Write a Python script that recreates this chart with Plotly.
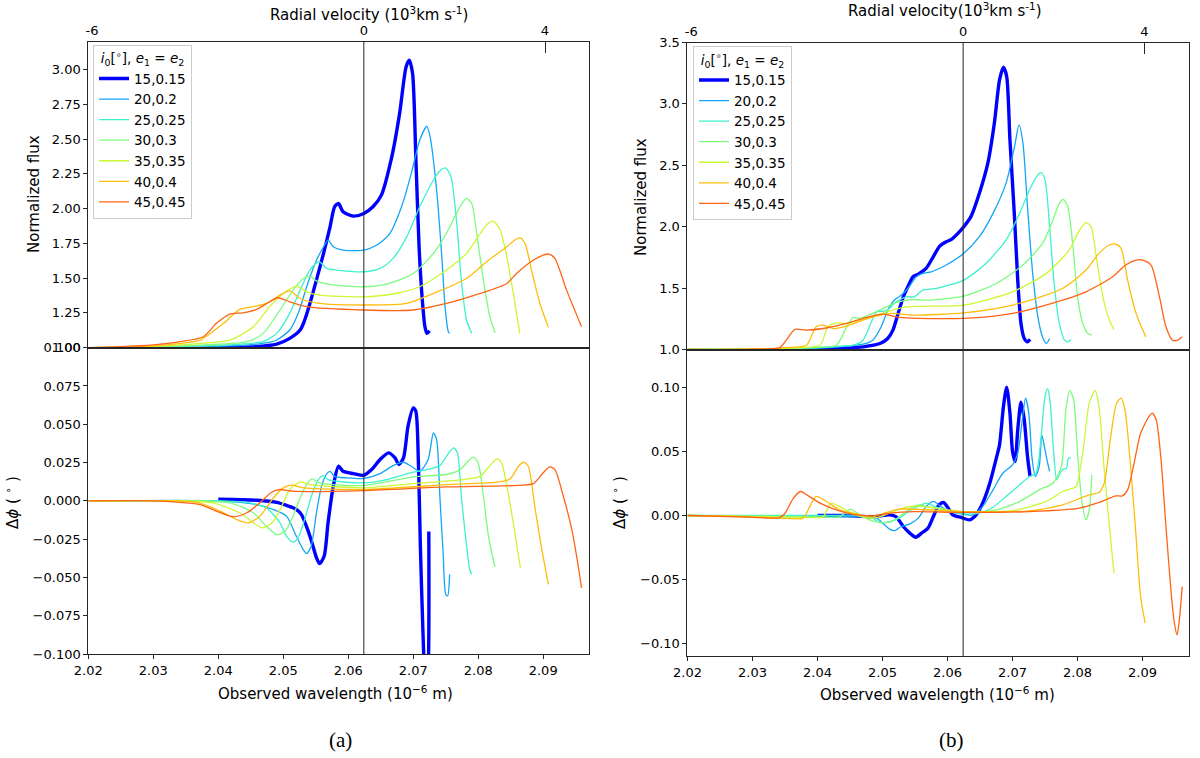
import plotly.graph_objects as go

# ---------------- series labels / styles ----------------
LABELS = ["15,0.15", "20,0.2", "25,0.25", "30,0.3", "35,0.35", "40,0.4", "45,0.45"]
COLORS = ["#0000ff", "#12a6f5", "#3cf2cc", "#7cfc7c", "#ccf733", "#ffbd0a", "#ff6414"]
WIDTHS = [3.4, 1.3, 1.3, 1.3, 1.3, 1.3, 1.3]

REST_WL = 2.0624          # rest wavelength (10^-6 m) -> zero radial velocity
WL_PER_KKMS = 0.00697     # wavelength shift per 10^3 km/s
X_RANGE = [2.02, 2.0971]
VEL_TICKS = [-6, 0, 4]
VEL_TICKTEXT = ["-6", "0", "4"]

# ---------------- panel (a): normalized flux ----------------
a15_wl = [2.0400, 2.0450, 2.0490, 2.0510, 2.0526, 2.0533, 2.0541, 2.0551, 2.0562, 2.0572, 2.0579, 2.0585, 2.0592, 2.0608, 2.0624, 2.0638, 2.0651, 2.0667, 2.0679, 2.0689, 2.0694, 2.0699, 2.0704, 2.0709, 2.0714, 2.0718, 2.0721, 2.0725]
a15_flux = [1.000, 1.005, 1.026, 1.067, 1.127, 1.199, 1.318, 1.486, 1.678, 1.869, 2.013, 2.037, 1.977, 1.946, 1.965, 2.013, 2.097, 2.372, 2.683, 3.019, 3.067, 2.971, 2.372, 1.726, 1.342, 1.151, 1.103, 1.122]
a20_wl = [2.020, 2.030, 2.040, 2.045, 2.048, 2.049, 2.051, 2.0523, 2.0536, 2.0549, 2.0562, 2.0569, 2.0577, 2.0592, 2.0624, 2.0644, 2.0664, 2.0682, 2.0697, 2.0710, 2.0721, 2.0726, 2.0736, 2.0744, 2.0749, 2.0754, 2.0756]
a20_flux = [1.000, 1.002, 1.010, 1.022, 1.040, 1.055, 1.127, 1.247, 1.438, 1.606, 1.726, 1.773, 1.726, 1.702, 1.702, 1.738, 1.821, 2.013, 2.252, 2.492, 2.592, 2.516, 2.133, 1.654, 1.295, 1.115, 1.103]
a25_wl = [2.020, 2.030, 2.040, 2.0447, 2.0469, 2.0490, 2.0510, 2.0526, 2.0541, 2.0555, 2.0567, 2.0582, 2.0624, 2.0649, 2.0669, 2.0690, 2.0710, 2.0731, 2.0742, 2.0750, 2.0758, 2.0767, 2.0774, 2.0782, 2.0790]
a25_flux = [1.000, 1.004, 1.018, 1.030, 1.043, 1.103, 1.247, 1.414, 1.558, 1.618, 1.570, 1.558, 1.546, 1.570, 1.642, 1.797, 2.013, 2.204, 2.275, 2.292, 2.230, 1.893, 1.486, 1.199, 1.103]
a30_wl = [2.020, 2.030, 2.038, 2.0444, 2.0469, 2.0495, 2.0515, 2.0531, 2.0541, 2.0551, 2.0572, 2.0624, 2.0659, 2.0700, 2.0731, 2.0751, 2.0772, 2.0782, 2.0790, 2.0797, 2.0808, 2.0818, 2.0826]
a30_flux = [1.000, 1.006, 1.020, 1.043, 1.103, 1.271, 1.414, 1.498, 1.515, 1.481, 1.455, 1.438, 1.457, 1.534, 1.678, 1.821, 2.013, 2.073, 2.037, 1.845, 1.486, 1.223, 1.108]
a35_wl = [2.020, 2.030, 2.037, 2.0418, 2.0454, 2.0479, 2.0500, 2.0520, 2.0536, 2.0556, 2.0624, 2.0669, 2.0710, 2.0751, 2.0782, 2.0803, 2.0815, 2.0823, 2.0833, 2.0844, 2.0854, 2.0864]
a35_flux = [1.000, 1.010, 1.030, 1.055, 1.151, 1.295, 1.390, 1.443, 1.402, 1.378, 1.366, 1.386, 1.438, 1.558, 1.678, 1.821, 1.893, 1.910, 1.857, 1.654, 1.390, 1.103]
a40_wl = [2.020, 2.030, 2.034, 2.0372, 2.0408, 2.0433, 2.0454, 2.0474, 2.0495, 2.0510, 2.0526, 2.0556, 2.0624, 2.0690, 2.0731, 2.0782, 2.0813, 2.0844, 2.0856, 2.0864, 2.0872, 2.0882, 2.0895, 2.0908]
a40_flux = [1.000, 1.013, 1.030, 1.055, 1.175, 1.275, 1.295, 1.318, 1.378, 1.409, 1.354, 1.318, 1.307, 1.318, 1.390, 1.498, 1.618, 1.726, 1.773, 1.790, 1.750, 1.558, 1.318, 1.146]
a45_wl = [2.020, 2.025, 2.030, 2.0341, 2.0377, 2.0397, 2.0418, 2.0438, 2.0459, 2.0479, 2.0492, 2.0510, 2.0536, 2.0624, 2.0700, 2.0751, 2.0803, 2.0844, 2.0859, 2.0885, 2.0900, 2.0909, 2.0918, 2.0936, 2.0959]
a45_flux = [1.000, 1.007, 1.020, 1.043, 1.079, 1.175, 1.242, 1.251, 1.275, 1.330, 1.359, 1.330, 1.295, 1.271, 1.271, 1.318, 1.390, 1.462, 1.534, 1.630, 1.666, 1.673, 1.642, 1.414, 1.151]

# ---------------- panel (a): differential phase ----------------
a15p_wl = [2.0400, 2.0459, 2.0490, 2.0505, 2.0518, 2.0528, 2.0536, 2.0544, 2.0551, 2.0556, 2.0563, 2.0569, 2.0577, 2.0585, 2.0592, 2.0608, 2.0624, 2.0636, 2.0649, 2.0662, 2.0672, 2.0678, 2.0685, 2.0692, 2.0700, 2.0704, 2.0708, 2.0711, 2.0715, 2.0719, 2.0723, 2.0724]
a15p = [0.001, 0.0004, -0.001, -0.003, -0.005, -0.009, -0.017, -0.027, -0.037, -0.041, -0.036, -0.014, 0.0096, 0.0226, 0.0193, 0.0178, 0.0167, 0.0204, 0.027, 0.0313, 0.028, 0.0237, 0.028, 0.0487, 0.0607, 0.0585, 0.0248, -0.0296, -0.086, -0.125, -0.110, -0.020]
a20p_wl = [2.020, 2.040, 2.0459, 2.0485, 2.0505, 2.0520, 2.0531, 2.0536, 2.0543, 2.0551, 2.0559, 2.0567, 2.0572, 2.0579, 2.0597, 2.0624, 2.0649, 2.0669, 2.0685, 2.0697, 2.0710, 2.0723, 2.0731, 2.0736, 2.0741, 2.0746, 2.0750, 2.0753, 2.0756]
a20p = [0.0, 0.0, -0.0024, -0.0057, -0.010, -0.023, -0.032, -0.0345, -0.0296, -0.0079, 0.0096, 0.0178, 0.0193, 0.016, 0.015, 0.0146, 0.0178, 0.023, 0.0252, 0.0226, 0.0193, 0.027, 0.0443, 0.040, 0.003, -0.034, -0.061, -0.062, -0.048]
a25p_wl = [2.020, 2.040, 2.0444, 2.0474, 2.0495, 2.0505, 2.0515, 2.0523, 2.0533, 2.0544, 2.0554, 2.0561, 2.0569, 2.0624, 2.0659, 2.0700, 2.0721, 2.0741, 2.0751, 2.0762, 2.0768, 2.0774, 2.0781, 2.0787, 2.0790]
a25p = [0.0, 0.0, -0.001, -0.0046, -0.0144, -0.023, -0.027, -0.024, -0.012, 0.004, 0.0139, 0.0165, 0.0139, 0.0117, 0.0139, 0.0187, 0.0204, 0.023, 0.0291, 0.0346, 0.0313, 0.003, -0.0252, -0.0448, -0.048]
a30p_wl = [2.020, 2.036, 2.0418, 2.0454, 2.0474, 2.0490, 2.0503, 2.0515, 2.0526, 2.0536, 2.0544, 2.0556, 2.0624, 2.0700, 2.0751, 2.0772, 2.0787, 2.0793, 2.0800, 2.0808, 2.0815, 2.0823, 2.0826]
a30p = [0.0, 0.0, -0.0013, -0.0078, -0.0166, -0.022, -0.0198, -0.010, 0.002, 0.0106, 0.0143, 0.0117, 0.010, 0.0156, 0.0172, 0.0204, 0.027, 0.0285, 0.0248, 0.003, -0.0209, -0.0383, -0.043]
a35p_wl = [2.020, 2.034, 2.0392, 2.0433, 2.0454, 2.0469, 2.0485, 2.0500, 2.0510, 2.0526, 2.0541, 2.0624, 2.0700, 2.0777, 2.0803, 2.0818, 2.0829, 2.0836, 2.0846, 2.0854, 2.0862, 2.0865]
a35p = [0.0, 0.0, -0.0013, -0.0078, -0.0144, -0.0176, -0.0133, -0.0013, 0.0074, 0.0124, 0.0106, 0.0085, 0.0113, 0.0139, 0.016, 0.023, 0.0274, 0.0248, 0.0052, -0.0144, -0.0362, -0.0438]
a40p_wl = [2.020, 2.032, 2.0367, 2.0403, 2.0428, 2.0446, 2.0464, 2.0485, 2.0500, 2.0513, 2.0531, 2.0624, 2.0751, 2.0828, 2.0849, 2.0862, 2.0870, 2.0877, 2.0887, 2.0897, 2.0908]
a40p = [0.0, 0.0, -0.001, -0.0067, -0.0122, -0.0144, -0.010, 0.002, 0.0085, 0.0102, 0.0085, 0.0074, 0.0106, 0.0122, 0.0143, 0.0226, 0.0252, 0.0226, -0.0035, -0.0296, -0.0546]
a45p_wl = [2.020, 2.030, 2.0341, 2.0372, 2.0397, 2.0423, 2.0444, 2.0464, 2.0482, 2.0495, 2.0515, 2.0624, 2.0751, 2.0854, 2.0885, 2.0900, 2.0910, 2.0918, 2.0931, 2.0944, 2.0954, 2.0959]
a45p = [0.0, 0.0, -0.001, -0.0024, -0.0067, -0.0104, -0.0078, -0.0013, 0.0056, 0.0074, 0.0063, 0.0067, 0.0091, 0.010, 0.0113, 0.0183, 0.0222, 0.0204, 0.003, -0.0187, -0.0427, -0.0568]

# ---------------- panel (b): normalized flux ----------------
b15_wl = [2.0400, 2.0440, 2.0470, 2.0496, 2.0508, 2.0516, 2.0524, 2.0532, 2.0539, 2.0547, 2.0555, 2.0567, 2.0578, 2.0588, 2.0598, 2.0606, 2.0616, 2.0625, 2.0636, 2.0649, 2.0662, 2.0672, 2.0680, 2.0686, 2.0691, 2.0696, 2.0703, 2.0708, 2.0713, 2.0718, 2.0723, 2.0727]
b15_flux = [1.000, 1.010, 1.022, 1.049, 1.090, 1.158, 1.294, 1.429, 1.511, 1.593, 1.614, 1.660, 1.755, 1.842, 1.878, 1.897, 1.946, 2.000, 2.082, 2.272, 2.517, 2.843, 3.196, 3.299, 3.223, 2.706, 2.082, 1.565, 1.212, 1.090, 1.063, 1.082]
b20_wl = [2.020, 2.040, 2.0445, 2.0470, 2.0485, 2.0498, 2.0508, 2.0519, 2.0529, 2.0539, 2.0552, 2.0562, 2.0575, 2.0598, 2.0625, 2.0649, 2.0670, 2.0690, 2.0703, 2.0710, 2.0716, 2.0723, 2.0731, 2.0739, 2.0746, 2.0752, 2.0757]
b20_flux = [1.000, 1.010, 1.027, 1.043, 1.076, 1.185, 1.320, 1.407, 1.443, 1.497, 1.593, 1.620, 1.633, 1.688, 1.783, 1.919, 2.109, 2.353, 2.652, 2.829, 2.680, 2.163, 1.620, 1.266, 1.103, 1.049, 1.090]
b25_wl = [2.020, 2.035, 2.0419, 2.0455, 2.0470, 2.0483, 2.0491, 2.0506, 2.0521, 2.0537, 2.0549, 2.0562, 2.0583, 2.0625, 2.0659, 2.0690, 2.0711, 2.0726, 2.0737, 2.0744, 2.0750, 2.0757, 2.0764, 2.0772, 2.0780, 2.0786, 2.0790]
b25_flux = [1.000, 1.008, 1.022, 1.035, 1.076, 1.226, 1.307, 1.315, 1.389, 1.429, 1.429, 1.484, 1.497, 1.565, 1.701, 1.891, 2.109, 2.299, 2.408, 2.440, 2.381, 2.000, 1.538, 1.212, 1.076, 1.063, 1.082]
b30_wl = [2.020, 2.035, 2.0393, 2.0429, 2.0445, 2.0455, 2.0465, 2.0485, 2.0506, 2.0526, 2.0547, 2.0567, 2.0625, 2.0675, 2.0716, 2.0746, 2.0762, 2.0772, 2.0778, 2.0785, 2.0793, 2.0800, 2.0808, 2.0816, 2.0822]
b30_flux = [1.000, 1.008, 1.016, 1.035, 1.185, 1.261, 1.253, 1.294, 1.348, 1.389, 1.407, 1.402, 1.435, 1.538, 1.688, 1.864, 2.054, 2.190, 2.223, 2.163, 1.837, 1.429, 1.212, 1.130, 1.117]
b35_wl = [2.020, 2.033, 2.0373, 2.0404, 2.0416, 2.0429, 2.0445, 2.0475, 2.0506, 2.0537, 2.0625, 2.0700, 2.0752, 2.0787, 2.0803, 2.0813, 2.0821, 2.0828, 2.0839, 2.0849, 2.0856]
b35_flux = [1.000, 1.006, 1.016, 1.035, 1.185, 1.217, 1.212, 1.253, 1.307, 1.348, 1.362, 1.470, 1.620, 1.810, 1.973, 2.033, 2.000, 1.783, 1.429, 1.239, 1.163]
b40_wl = [2.020, 2.030, 2.0352, 2.0383, 2.0398, 2.0409, 2.0424, 2.0445, 2.0470, 2.0496, 2.0516, 2.0547, 2.0625, 2.0700, 2.0777, 2.0813, 2.0833, 2.0849, 2.0859, 2.0867, 2.0877, 2.0890, 2.0905]
b40_flux = [1.000, 1.004, 1.016, 1.035, 1.185, 1.198, 1.171, 1.190, 1.239, 1.280, 1.294, 1.280, 1.299, 1.362, 1.497, 1.647, 1.783, 1.851, 1.859, 1.824, 1.565, 1.294, 1.103]
b45_wl = [2.020, 2.030, 2.0342, 2.0352, 2.0365, 2.0383, 2.0409, 2.0445, 2.0475, 2.0501, 2.0526, 2.0625, 2.0700, 2.0777, 2.0813, 2.0854, 2.0874, 2.0890, 2.0900, 2.0913, 2.0926, 2.0936, 2.0946, 2.0954, 2.0961]
b45_flux = [1.000, 1.002, 1.016, 1.076, 1.163, 1.158, 1.171, 1.212, 1.261, 1.288, 1.261, 1.253, 1.294, 1.402, 1.470, 1.593, 1.688, 1.728, 1.728, 1.688, 1.429, 1.185, 1.076, 1.076, 1.103]

# ---------------- panel (b): differential phase ----------------
b15p_wl = [2.0400, 2.0445, 2.0485, 2.0511, 2.0521, 2.0532, 2.0542, 2.0551, 2.0560, 2.0570, 2.0578, 2.0587, 2.0594, 2.0601, 2.0608, 2.0621, 2.0634, 2.0644, 2.0654, 2.0665, 2.0675, 2.0680, 2.0686, 2.0691, 2.0696, 2.0700, 2.0704, 2.0708, 2.0713, 2.0718, 2.0723, 2.0727]
b15p = [0.0, 0.0, -0.001, 0.0005, -0.001, -0.0086, -0.0138, -0.017, -0.0138, -0.0099, -0.001, 0.0084, 0.0102, 0.0058, 0.0005, -0.0015, -0.0034, 0.0005, 0.0097, 0.0253, 0.0449, 0.0553, 0.0853, 0.1004, 0.0801, 0.0501, 0.0423, 0.0671, 0.0887, 0.0749, 0.0462, 0.0305]
b20p_wl = [2.020, 2.040, 2.0470, 2.0491, 2.0503, 2.0511, 2.0519, 2.0529, 2.0542, 2.0555, 2.0567, 2.0579, 2.0588, 2.0603, 2.0625, 2.0639, 2.0654, 2.0670, 2.0685, 2.0700, 2.0708, 2.0715, 2.0720, 2.0725, 2.0730, 2.0735, 2.0741, 2.0745, 2.0749, 2.0753, 2.0757]
b20p = [0.0, -0.001, -0.001, -0.002, -0.0073, -0.0107, -0.0118, -0.0086, -0.0065, -0.002, 0.007, 0.011, 0.0076, 0.0031, 0.001, 0.0005, 0.007, 0.0201, 0.0331, 0.0397, 0.0488, 0.0749, 0.0918, 0.0801, 0.0449, 0.0305, 0.0383, 0.0631, 0.054, 0.0436, 0.0345]
b25p_wl = [2.020, 2.040, 2.0470, 2.0485, 2.0496, 2.0511, 2.0526, 2.0544, 2.0560, 2.0567, 2.0583, 2.0603, 2.0625, 2.0649, 2.0670, 2.0690, 2.0711, 2.0726, 2.0736, 2.0744, 2.0750, 2.0754, 2.0758, 2.0763, 2.0768, 2.0773, 2.0778, 2.0783, 2.0786, 2.0790]
b25p = [0.0, 0.0, 0.0, -0.002, -0.0055, -0.0047, -0.002, 0.0045, 0.0084, 0.0097, 0.0065, 0.0031, 0.0013, 0.0019, 0.0065, 0.0149, 0.024, 0.0305, 0.0331, 0.0618, 0.0932, 0.0992, 0.0879, 0.0514, 0.0279, 0.0331, 0.0363, 0.037, 0.0449, 0.0449]
b30p_wl = [2.020, 2.040, 2.0434, 2.0450, 2.0465, 2.0480, 2.0501, 2.0514, 2.0532, 2.0547, 2.0557, 2.0572, 2.0625, 2.0675, 2.0711, 2.0741, 2.0762, 2.0775, 2.0782, 2.0788, 2.0794, 2.0800, 2.0807, 2.0813, 2.0818, 2.0822]
b30p = [0.0, -0.001, -0.001, 0.005, 0.0005, -0.0034, -0.0055, -0.0047, 0.0013, 0.007, 0.0084, 0.0065, 0.0024, 0.0045, 0.011, 0.0201, 0.0253, 0.0383, 0.0827, 0.0979, 0.0906, 0.0488, 0.0097, -0.0034, 0.0045, 0.0318]
b35p_wl = [2.020, 2.035, 2.0400, 2.0409, 2.0421, 2.0434, 2.0455, 2.0480, 2.0496, 2.0516, 2.0537, 2.0552, 2.0625, 2.0700, 2.0752, 2.0777, 2.0793, 2.0798, 2.0808, 2.0818, 2.0827, 2.0833, 2.0841, 2.0849, 2.0856]
b35p = [0.0, -0.001, -0.0016, -0.001, 0.0097, 0.007, 0.0013, -0.002, -0.001, 0.0031, 0.0065, 0.0076, 0.0031, 0.0039, 0.011, 0.0188, 0.0214, 0.0227, 0.0488, 0.0879, 0.0979, 0.0853, 0.0358, -0.0086, -0.0451]
b40p_wl = [2.020, 2.030, 2.0342, 2.0378, 2.0388, 2.0398, 2.0414, 2.0434, 2.0460, 2.0485, 2.0506, 2.0526, 2.0625, 2.0726, 2.0777, 2.0818, 2.0833, 2.0841, 2.0851, 2.0860, 2.0867, 2.0873, 2.0882, 2.0890, 2.0897, 2.0904]
b40p = [0.0, -0.001, -0.002, -0.002, 0.007, 0.0149, 0.011, 0.0045, 0.0013, -0.001, 0.0024, 0.005, 0.0031, 0.0037, 0.0084, 0.0162, 0.018, 0.0253, 0.0618, 0.0879, 0.0918, 0.0827, 0.0358, -0.0164, -0.0634, -0.0843]
b45p_wl = [2.020, 2.028, 2.0330, 2.0342, 2.0350, 2.0363, 2.0374, 2.0386, 2.0404, 2.0429, 2.0460, 2.0485, 2.0511, 2.0547, 2.0625, 2.0726, 2.0803, 2.0833, 2.0859, 2.0869, 2.0877, 2.0887, 2.0897, 2.0910, 2.0915, 2.0921, 2.0928, 2.0936, 2.0944, 2.0949, 2.0953, 2.0956, 2.0961]
b45p = [0.0, -0.001, -0.002, -0.0016, 0.0018, 0.0136, 0.0188, 0.0154, 0.0097, 0.0045, 0.0005, -0.0002, 0.0018, 0.0031, 0.0024, 0.0031, 0.0058, 0.0102, 0.0154, 0.0154, 0.0201, 0.041, 0.0644, 0.0775, 0.0801, 0.0749, 0.0462, -0.0086, -0.0608, -0.0843, -0.0934, -0.0843, -0.0556]

A_FLUX = [(a15_wl, a15_flux), (a20_wl, a20_flux), (a25_wl, a25_flux), (a30_wl, a30_flux),
          (a35_wl, a35_flux), (a40_wl, a40_flux), (a45_wl, a45_flux)]
A_PHASE = [(a15p_wl, a15p), (a20p_wl, a20p), (a25p_wl, a25p), (a30p_wl, a30p),
           (a35p_wl, a35p), (a40p_wl, a40p), (a45p_wl, a45p)]
B_FLUX = [(b15_wl, b15_flux), (b20_wl, b20_flux), (b25_wl, b25_flux), (b30_wl, b30_flux),
          (b35_wl, b35_flux), (b40_wl, b40_flux), (b45_wl, b45_flux)]
B_PHASE = [(b15p_wl, b15p), (b20p_wl, b20p), (b25p_wl, b25p), (b30p_wl, b30p),
           (b35p_wl, b35p), (b40p_wl, b40p), (b45p_wl, b45p)]

FONT = "DejaVu Sans"
AXC = "#262626"

fig = go.Figure()

panels = [
    (A_FLUX, "x", "y", "legend", True),
    (A_PHASE, "x2", "y2", "legend", False),
    (B_FLUX, "x3", "y3", "legend2", True),
    (B_PHASE, "x4", "y4", "legend2", False),
]
for series, xa, ya, leg, show in panels:
    for i, (wl, val) in enumerate(series):
        fig.add_trace(go.Scatter(
            x=wl, y=val, mode="lines", name=LABELS[i],
            line=dict(color=COLORS[i], width=WIDTHS[i], shape="spline", smoothing=0.7),
            xaxis=xa, yaxis=ya, legend=leg, showlegend=show,
        ))

def vel(wl):
    return (wl - REST_WL) / WL_PER_KKMS

# empty carrier traces so the radial-velocity (top) axes get drawn
for xa, ya in [("x5", "y"), ("x6", "y3")]:
    fig.add_trace(go.Scatter(x=VEL_TICKS, y=[None] * len(VEL_TICKS), mode="lines",
                             xaxis=xa, yaxis=ya, showlegend=False, hoverinfo="skip"))

XA_DOM = [0.0736, 0.4911]
XB_DOM = [0.5729, 0.9906]

common_ax = dict(showline=True, mirror=True, linecolor=AXC, linewidth=1,
                 showgrid=False, zeroline=False, automargin=False,
                 tickfont=dict(family=FONT, size=13, color="black"),
                 tickcolor=AXC, ticklen=4, tickwidth=1)

def xax(dom, anchor, labels):
    d = dict(common_ax)
    d.update(domain=dom, anchor=anchor, range=X_RANGE, dtick=0.01, tick0=2.02,
             tickformat=".2f")
    if labels:
        d.update(ticks="outside", showticklabels=True)
    else:
        d.update(ticks="", showticklabels=False)
    return d

def yax(dom, anchor, rng, dtick, fmt):
    d = dict(common_ax)
    d.update(domain=dom, anchor=anchor, range=rng, dtick=dtick, tick0=0,
             tickformat=fmt, ticks="outside")
    return d

def velax(over, anchor):
    return dict(overlaying=over, anchor=anchor, side="top", automargin=False,
                range=[vel(X_RANGE[0]), vel(X_RANGE[1])],
                tickmode="array", tickvals=VEL_TICKS, ticktext=VEL_TICKTEXT,
                ticks="", showline=False, showgrid=False, zeroline=False,
                tickfont=dict(family=FONT, size=13, color="black"),
                ticklabelstandoff=3,
                minor=dict(tickmode="array", tickvals=[VEL_TICKS[-1]], ticks="inside",
                           ticklen=11, tickcolor=AXC, tickwidth=1))

legend_common = dict(xanchor="left", yanchor="top", bgcolor="white",
                     bordercolor="#cccccc", borderwidth=1,
                     font=dict(family=FONT, size=13.5, color="black"),
                     title=dict(text="<i>i</i><sub>0</sub>[<sup>∘</sup>], <i>e</i><sub>1</sub> = <i>e</i><sub>2</sub>",
                                side="top center",
                                font=dict(family=FONT, size=13.5, color="black")),
                     itemwidth=30, tracegroupgap=0)

fig.update_layout(
    width=1200, height=758,
    margin=dict(l=0, r=0, t=0, b=0, autoexpand=False),
    font=dict(family=FONT, color="black"),
    plot_bgcolor="white", paper_bgcolor="white",
    xaxis=xax(XA_DOM, "y", False),
    yaxis=yax([0.5413, 0.9446], "x", [1.0, 3.198], 0.25, ".2f"),
    xaxis2=xax(XA_DOM, "y2", True),
    yaxis2=yax([0.1372, 0.5413], "x2", [-0.1, 0.1], 0.025, ".3f"),
    xaxis3=xax(XB_DOM, "y3", False),
    yaxis3=yax([0.5389, 0.9439], "x3", [1.0, 3.5], 0.5, ".1f"),
    xaxis4=xax(XB_DOM, "y4", True),
    yaxis4=yax([0.1346, 0.5389], "x4", [-0.1099, 0.1299], 0.05, ".2f"),
    xaxis5=velax("x", "y"),
    xaxis6=velax("x3", "y3"),
    legend=dict(legend_common, x=0.0775, y=0.941),
    legend2=dict(legend_common, x=0.5775, y=0.939),
)

# rest-wavelength (zero velocity) vertical lines
for xr, yr in [("x", "y"), ("x2", "y2"), ("x3", "y3"), ("x4", "y4")]:
    fig.add_shape(type="line", xref=xr, yref=yr + " domain", x0=REST_WL, x1=REST_WL,
                  y0=0, y1=1, line=dict(color=AXC, width=1), layer="above")

def ann(text, x, y, size=15, angle=0, family=FONT):
    fig.add_annotation(text=text, x=x / 1200, y=1 - y / 758, xref="paper", yref="paper",
                       showarrow=False, textangle=angle, xanchor="center", yanchor="middle",
                       font=dict(family=family, size=size, color="black"))

ann("Radial velocity (10<sup>3</sup>km s<sup>-1</sup>)", 369, 14)
ann("Radial velocity(10<sup>3</sup>km s<sup>-1</sup>)", 945, 10)
ann("Normalized flux", 34, 194, angle=-90)
ann("Normalized flux", 641, 197, angle=-90)
ann("Δ<i>ϕ</i> ( <sup>∘</sup> )", 12, 503, angle=-90)
ann("Δ<i>ϕ</i> ( <sup>∘</sup> )", 619, 503, angle=-90)
ann("Observed wavelength (10<sup>−6</sup> m)", 335, 693)
ann("Observed wavelength (10<sup>−6</sup> m)", 937, 694)
ann("(a)", 340, 740, size=21, family="Liberation Serif")
ann("(b)", 951, 740, size=21, family="Liberation Serif")

fig.write_html("out.html",
               config={"displayModeBar": False},
               post_script="document.body.style.margin='0px';document.body.style.overflow='hidden';")
